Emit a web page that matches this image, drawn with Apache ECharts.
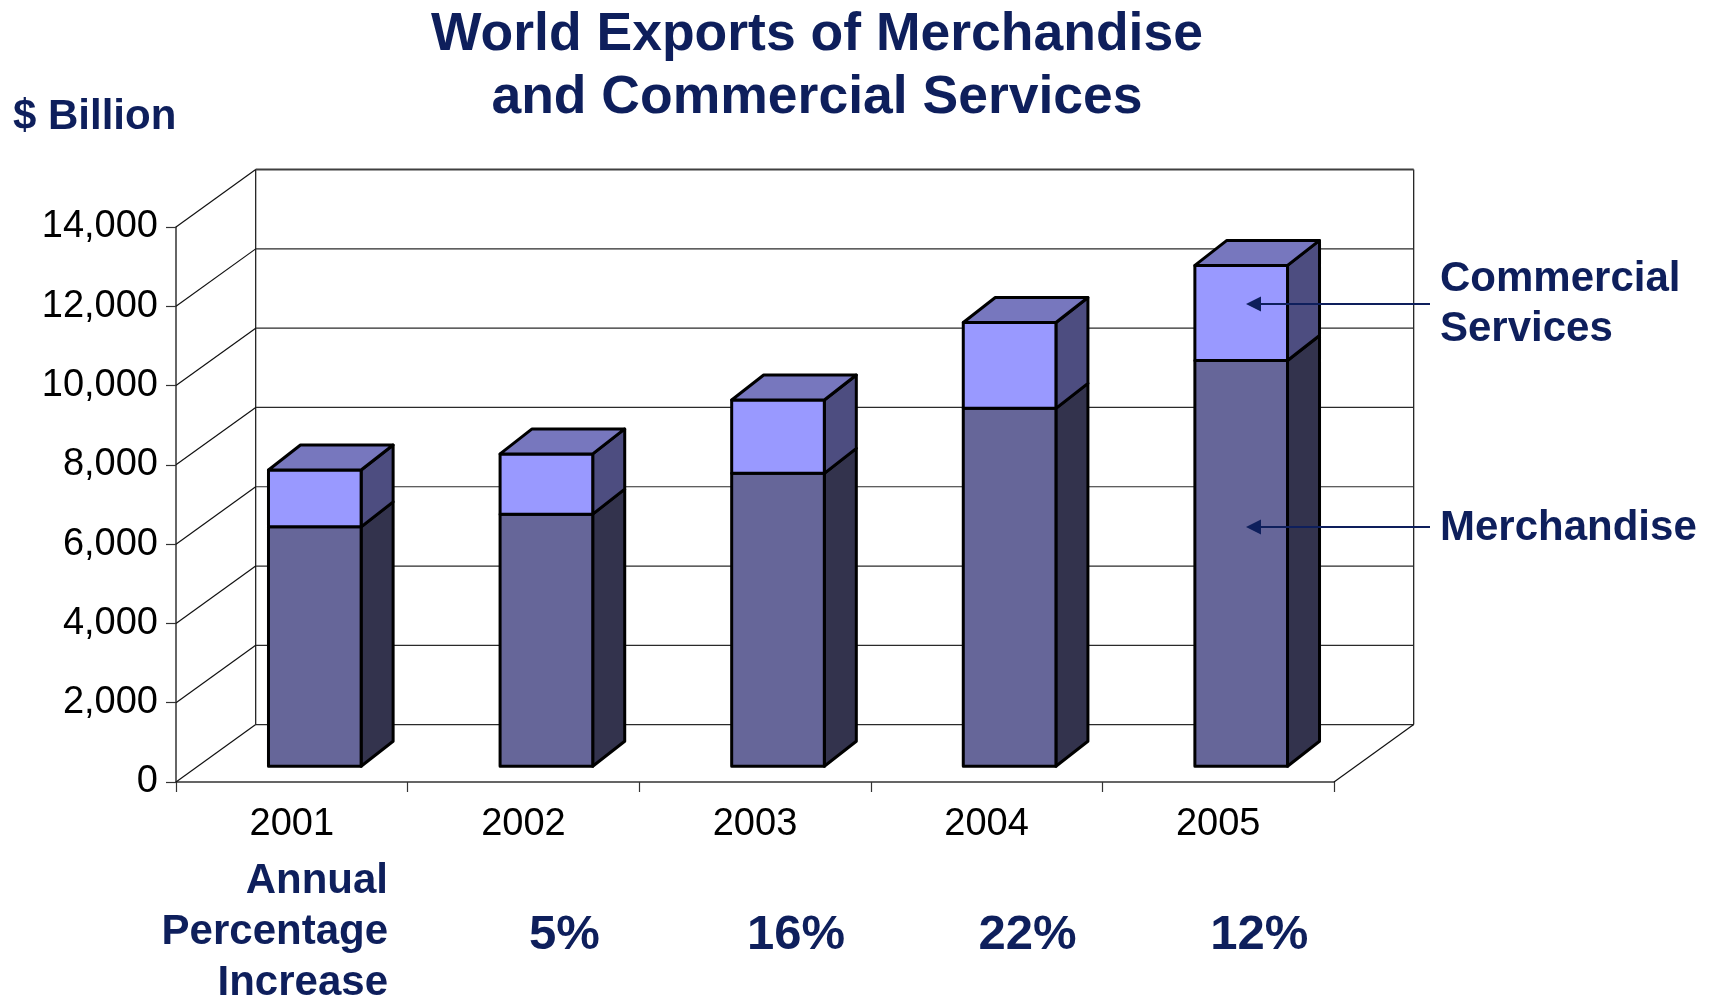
<!DOCTYPE html>
<html>
<head>
<meta charset="utf-8">
<script src="https://cdn.jsdelivr.net/npm/echarts@6/dist/echarts.min.js"></script>
<style>
html,body{margin:0;padding:0;background:#fff;}
#chart{width:1715px;height:1000px;}
</style>
</head>
<body>
<div id="chart"></div>
<script>
// ---- data ----
const years = ['2001', '2002', '2003', '2004', '2005'];
const merchandise = [6040, 6360, 7390, 9030, 10235];
const services = [1435, 1520, 1850, 2165, 2400];
const yTicks = [0, 2000, 4000, 6000, 8000, 10000, 12000, 14000];
const pctLabels = ['', '5%', '16%', '22%', '12%'];

// ---- styling constants ----
const FONT = '"Liberation Sans", Arial, Helvetica, sans-serif';
const NAVY = '#0E1F5C';
const DX = 79.7, DY = -57.4;      // depth of the box (back wall offset)
const FDX = 23, FDY = -15.7;      // bar front face offset
const BDX = 32, BDY = -25;        // bar depth

const chart = echarts.init(document.getElementById('chart'), null, {renderer: 'canvas'});

function frameItem(params, api) {
  const cs = params.coordSys;
  const x0 = cs.x, x1 = cs.x + cs.width;
  const v = api.value(1);
  const p = api.coord([0, v]);
  const y = p[1];
  const top = v === yTicks[yTicks.length - 1];
  const children = [
    {type: 'line', shape: {x1: x0 + DX, y1: y + DY, x2: x1 + DX, y2: y + DY},
     style: {stroke: top ? '#404040' : '#2a2a2a', lineWidth: top ? 2 : 1.2}},
    {type: 'line', shape: {x1: x0, y1: y, x2: x0 + DX, y2: y + DY},
     style: {stroke: '#111', lineWidth: 1.2}}
  ];
  if (params.dataIndex === 0) {
    const yTop = api.coord([0, yTicks[yTicks.length - 1]])[1];
    children.push(
      {type: 'line', shape: {x1: x0 + DX, y1: y + DY, x2: x0 + DX, y2: yTop + DY}, style: {stroke: '#111', lineWidth: 1.2}},
      {type: 'line', shape: {x1: x1 + DX, y1: y + DY, x2: x1 + DX, y2: yTop + DY}, style: {stroke: '#111', lineWidth: 1.2}},
      {type: 'line', shape: {x1: x1, y1: y, x2: x1 + DX, y2: y + DY}, style: {stroke: '#111', lineWidth: 1.2}}
    );
  }
  return {type: 'group', children};
}

function barItem(params, api) {
  const i = api.value(0), m = api.value(1), s = api.value(2);
  const p0 = api.coord([i, 0]);
  const pm = api.coord([i, m]);
  const pt = api.coord([i, m + s]);
  const bw = api.size([1, 0])[0];
  const w = bw * 0.4;
  const cx = p0[0] + FDX;
  const xl = cx - w / 2, xr = cx + w / 2;
  const y0 = p0[1] + FDY, ym = pm[1] + FDY, yt = pt[1] + FDY;
  const st = (fill) => ({fill, stroke: '#000', lineWidth: 3, lineJoin: 'round'});
  return {
    type: 'group',
    children: [
      {type: 'polygon', shape: {points: [[xr, y0], [xr + BDX, y0 + BDY], [xr + BDX, ym + BDY], [xr, ym]]}, style: st('#33334D')},
      {type: 'polygon', shape: {points: [[xr, ym], [xr + BDX, ym + BDY], [xr + BDX, yt + BDY], [xr, yt]]}, style: st('#4D4D80')},
      {type: 'rect', shape: {x: xl, y: ym, width: w, height: y0 - ym}, style: st('#666699')},
      {type: 'rect', shape: {x: xl, y: yt, width: w, height: ym - yt}, style: st('#9999FF')},
      {type: 'polygon', shape: {points: [[xl, yt], [xl + BDX, yt + BDY], [xr + BDX, yt + BDY], [xr, yt]]}, style: st('#7777BE')}
    ]
  };
}

function pctItem(params, api) {
  const p = api.coord([api.value(0), 0]);
  return {
    type: 'text',
    style: {
      text: pctLabels[params.dataIndex],
      x: p[0] + 41, y: p[1] + 153,
      align: 'center', verticalAlign: 'middle',
      font: 'bold 49px ' + FONT, fill: NAVY
    }
  };
}

const option = {
  backgroundColor: '#ffffff',
  animation: false,
  title: {
    text: 'World Exports of Merchandise\nand Commercial Services',
    left: 812, top: -1, textAlign: 'center',
    textStyle: {fontFamily: FONT, fontWeight: 'bold', fontSize: 53.5, lineHeight: 63, color: NAVY}
  },
  grid: {left: 176, top: 227, right: 381, bottom: 218, outerBoundsMode: 'none'},
  xAxis: {
    type: 'category', data: years, boundaryGap: true,
    axisLine: {show: true, lineStyle: {color: '#333', width: 1.5}},
    axisTick: {show: true, inside: false, length: 10, alignWithLabel: false, lineStyle: {color: '#333', width: 1.2}},
    axisLabel: {show: true, margin: 24, fontFamily: FONT, fontSize: 38, color: '#000'},
    splitLine: {show: false}
  },
  yAxis: {
    type: 'value', min: 0, max: 14000, interval: 2000,
    axisLine: {show: true, lineStyle: {color: '#333', width: 1.5}},
    axisTick: {show: true, inside: false, length: 10, lineStyle: {color: '#333', width: 1.2}},
    axisLabel: {show: true, margin: 18, fontFamily: FONT, fontSize: 38, color: '#000',
      formatter: (v) => v.toLocaleString('en-US')},
    splitLine: {show: false}
  },
  graphic: [
    {type: 'text', left: 13, top: 96, style: {text: '$ Billion', font: 'bold 42px ' + FONT, fill: NAVY}},
    {type: 'text', style: {text: 'Annual\nPercentage\nIncrease', x: 388, y: 932, align: 'right', verticalAlign: 'middle',
      font: 'bold 42px ' + FONT, lineHeight: 51, fill: NAVY}},
    {type: 'text', style: {text: 'Commercial\nServices', x: 1440, y: 304, align: 'left', verticalAlign: 'middle',
      font: 'bold 42px ' + FONT, lineHeight: 50, fill: NAVY}},
    {type: 'text', style: {text: 'Merchandise', x: 1440, y: 528, align: 'left', verticalAlign: 'middle',
      font: 'bold 42px ' + FONT, fill: NAVY}},
    {type: 'line', shape: {x1: 1430, y1: 304, x2: 1258, y2: 304}, style: {stroke: NAVY, lineWidth: 2}, z: 10},
    {type: 'polygon', shape: {points: [[1246, 304], [1261, 296.5], [1261, 311.5]]}, style: {fill: NAVY}, z: 10},
    {type: 'line', shape: {x1: 1430, y1: 527, x2: 1258, y2: 527}, style: {stroke: NAVY, lineWidth: 2}, z: 10},
    {type: 'polygon', shape: {points: [[1246, 527], [1261, 519.5], [1261, 534.5]]}, style: {fill: NAVY}, z: 10}
  ],
  series: [
    {type: 'custom', name: 'frame', clip: false, z: 1, silent: true,
      data: yTicks.map(v => [0, v]), renderItem: frameItem},
    {type: 'custom', name: 'bars', clip: false, z: 3,
      data: years.map((y, i) => [i, merchandise[i], services[i]]),
      encode: {x: 0, y: [1, 2]}, renderItem: barItem},
    {type: 'custom', name: 'pct', clip: false, z: 4, silent: true,
      data: years.map((y, i) => [i, 0]), renderItem: pctItem}
  ]
};
chart.setOption(option);
</script>
</body>
</html>
